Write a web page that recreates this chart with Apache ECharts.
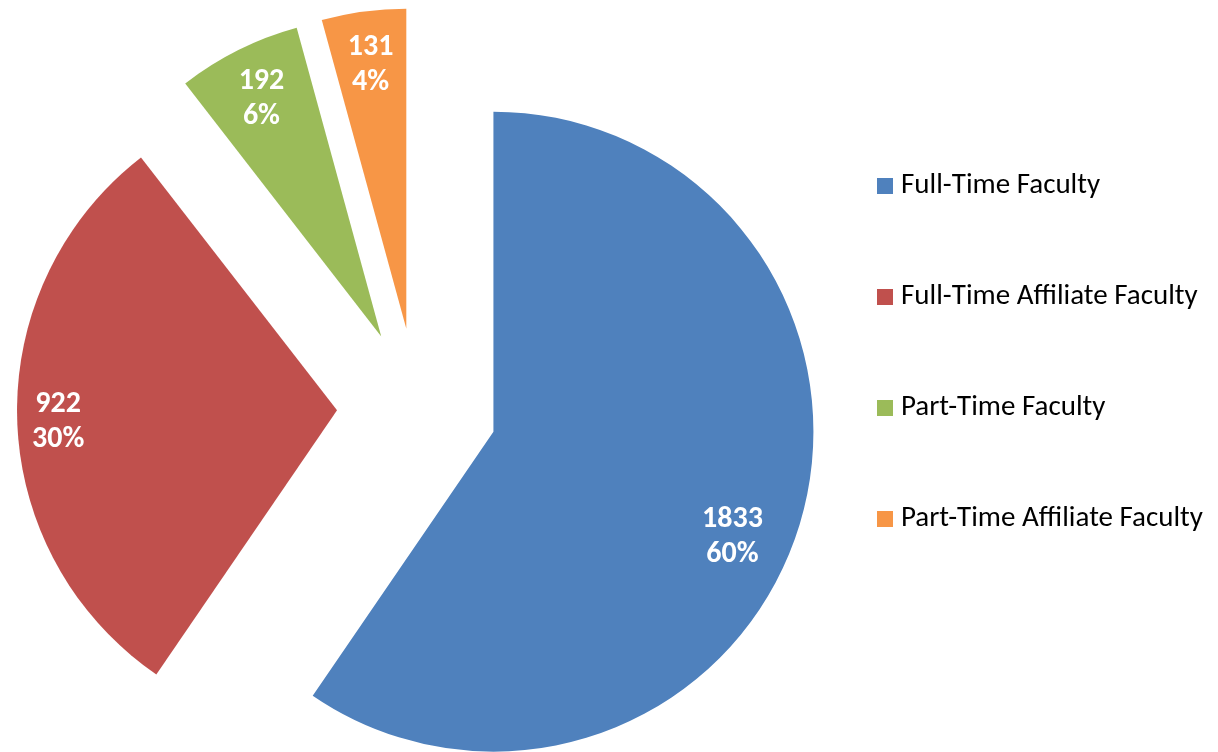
<!DOCTYPE html>
<html>
<head>
<meta charset="utf-8">
<script src="https://cdn.jsdelivr.net/npm/echarts@6/dist/echarts.min.js"></script>
<style>
  html, body { margin: 0; padding: 0; background: #fff; }
  #main { width: 1218px; height: 752px; }
</style>
</head>
<body>
<div id="main"></div>
<script>
// faculty counts
var categories = ['Full-Time Faculty', 'Full-Time Affiliate Faculty', 'Part-Time Faculty', 'Part-Time Affiliate Faculty']
var counts = [1833, 922, 192, 131]
var colors = ['#4F81BD', '#C0504D', '#9BBB59', '#F79646']

var font = 'Carlito, "Liberation Sans", Arial, sans-serif'
var center = [417, 408]
var explode = 80

var pieData = categories.map(function (name, i) {
  return { name: name, value: counts[i], selected: true, itemStyle: { color: colors[i] } }
})

var myChart = echarts.init(document.getElementById('main'))
var option = {
  animation: false,
  legend: {
    orient: 'vertical',
    left: 877,
    top: 171,
    padding: 0,
    itemWidth: 16,
    itemHeight: 16,
    itemGap: 81,
    icon: 'rect',
    selectedMode: false,
    data: categories,
    textStyle: { fontFamily: font, fontSize: 29, color: '#000', lineHeight: 30, padding: [0, 0, 0, 3] }
  },
  series: [{
    // the coloured slices
    type: 'pie',
    center: center,
    radius: 320,
    startAngle: 90,
    clockwise: true,
    selectedMode: 'multiple',
    selectedOffset: explode,
    avoidLabelOverlap: false,
    silent: true,
    label: { show: false },
    labelLine: { show: false },
    data: pieData
  }, {
    // transparent ring only used to place the value labels
    type: 'pie',
    center: center,
    radius: [210, 320],
    startAngle: 90,
    clockwise: true,
    selectedMode: 'multiple',
    selectedOffset: explode,
    avoidLabelOverlap: false,
    silent: true,
    percentPrecision: 0,
    itemStyle: { color: 'rgba(0,0,0,0)' },
    label: {
      show: true,
      position: 'inside',
      formatter: '{c}\n{d}%',
      color: '#fff',
      fontFamily: font,
      fontWeight: 'bold',
      fontSize: 30,
      lineHeight: 35
    },
    labelLayout: function (params) {
      if (params.dataIndex === 0) return { dx: -17, dy: 26 }
      if (params.dataIndex === 1) return { dx: -11, dy: 4 }
      return { dx: 0, dy: 2 }
    },
    labelLine: { show: false },
    data: categories.map(function (name, i) {
      return { name: name, value: counts[i], selected: true }
    })
  }]
}
myChart.setOption(option)
</script>
</body>
</html>
